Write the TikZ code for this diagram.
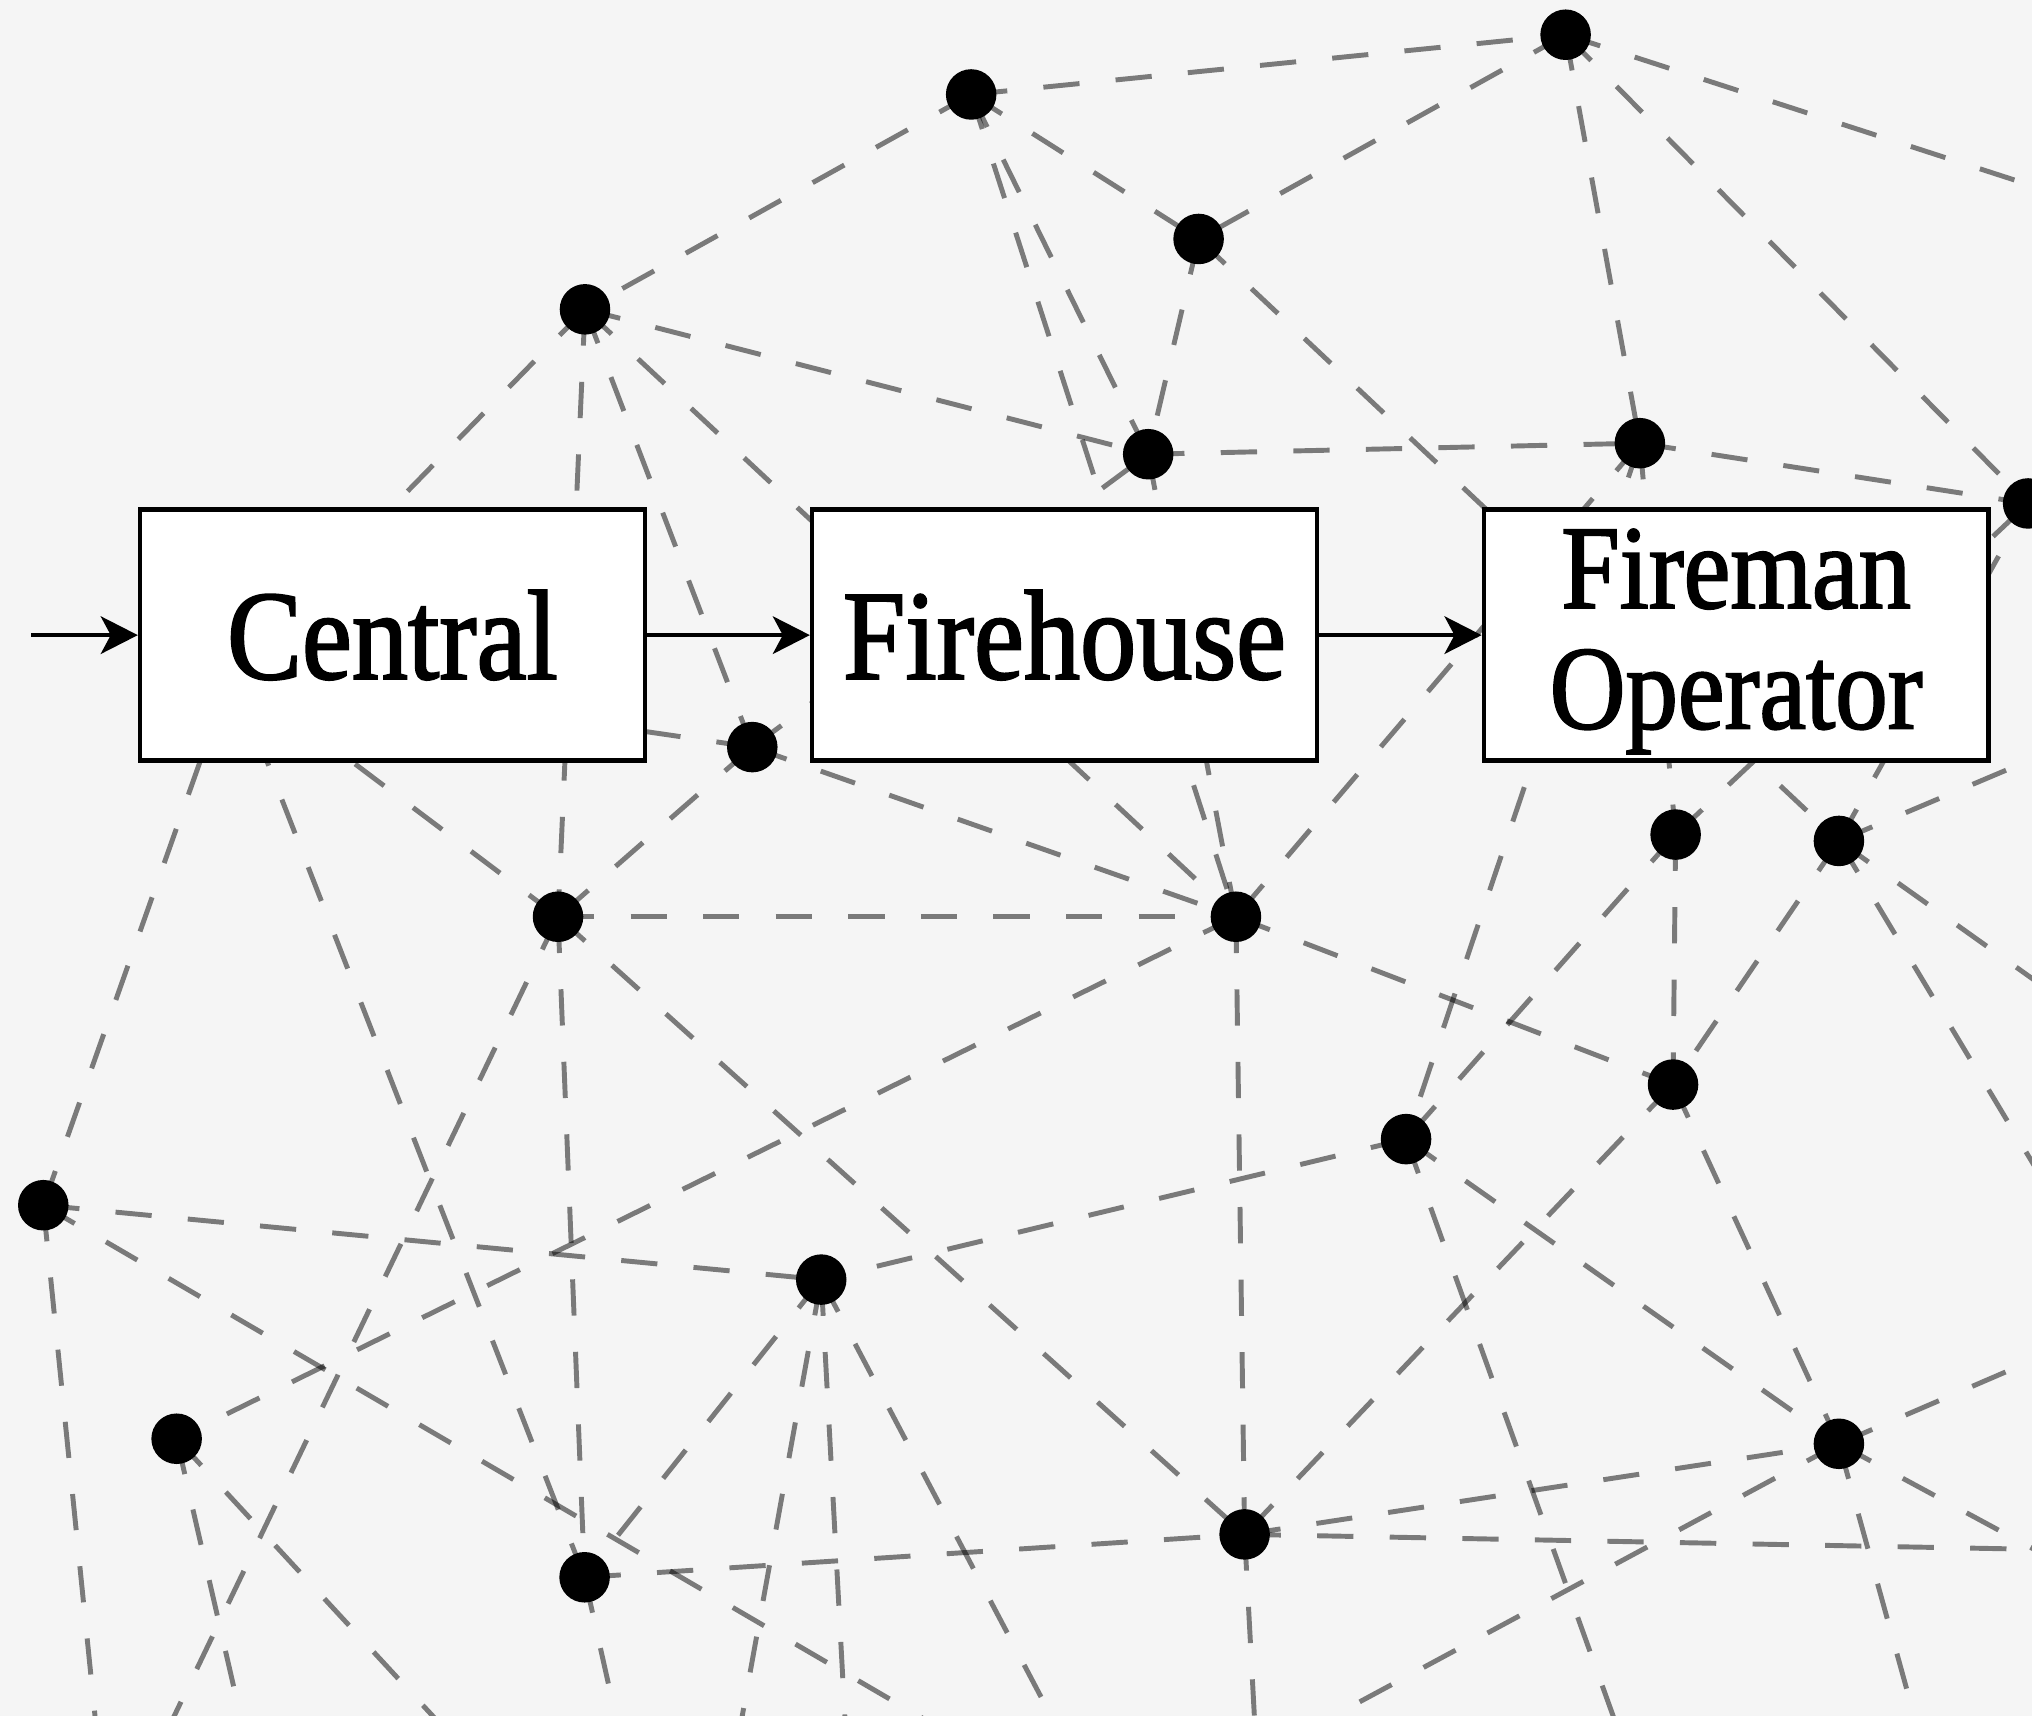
\documentclass[tikz,border=0pt]{standalone}
\usepackage{fontspec}
\setmainfont[FakeStretch=0.88,FakeBold=1.6]{Liberation Serif}
\usetikzlibrary{arrows.meta,backgrounds}
\definecolor{paper}{HTML}{F5F5F5}
\newcommand\stagefont{\fontsize{98.5pt}{100pt}\selectfont}
\newcommand\smallstagefont{\fontsize{92pt}{93pt}\selectfont}
\tikzset{
  link/.style={draw=black, draw opacity=0.5, line width=3.8pt, dash pattern=on 28pt off 28pt},
  dot/.style={circle, fill=black, draw=none, inner sep=0pt, minimum size=39pt},
  stage/.style={draw=black, fill=white, line width=3.4pt, minimum width=389.5pt,
                minimum height=193.6pt, inner sep=0pt},
  label/.style={inner sep=0pt, align=center},
  flow/.style={draw=black, line width=2.9pt,
               -{Stealth[length=28.6pt, width=29pt, inset=7.7pt]}},
}
\begin{document}
\begin{tikzpicture}[x=1pt,y=-1pt]
\useasboundingbox (0,0) rectangle (1568,1324);
\clip (0,0) rectangle (1568,1324);

% network dots
\node[dot] (A) at (749.4,72.9) {};
\node[dot] (B) at (1208.1,26.8) {};
\node[dot] (C) at (924.9,184.4) {};
\node[dot] (D) at (451.4,238.7) {};
\node[dot] (E) at (886,350.5) {};
\node[dot] (F) at (1265.4,342) {};
\node[dot] (G) at (1565,388.5) {};
\node[dot] (H) at (580.5,576.5) {};
\node[dot] (I) at (430.6,707.4) {};
\node[dot] (J) at (953.7,707.4) {};
\node[dot] (K) at (1293,644) {};
\node[dot] (L) at (1419,648.9) {};
\node[dot] (M) at (1291,836.9) {};
\node[dot] (N) at (1085,879) {};
\node[dot] (O) at (33.4,930) {};
\node[dot] (P) at (633.7,987.4) {};
\node[dot] (Q) at (136.3,1110.2) {};
\node[dot] (R) at (451.1,1217.1) {};
\node[dot] (S) at (960.4,1184) {};
\node[dot] (T) at (1419,1114.1) {};
\coordinate (hub) at (179,518);

% links that run on past the frame
\coordinate (b1) at (1700,186);
\coordinate (l1) at (1700,530);
\coordinate (l2) at (1700,849);
\coordinate (l3) at (1700,1116);
\coordinate (i1) at (98,1400);
\coordinate (n1) at (1272,1400);
\coordinate (p1) at (559,1400);
\coordinate (p2) at (656,1400);
\coordinate (p3) at (851,1400);
\coordinate (q1) at (203,1400);
\coordinate (q2) at (404,1400);
\coordinate (o1) at (839,1400);
\coordinate (o2) at (81,1400);
\coordinate (r1) at (492,1400);
\coordinate (s1) at (1700,1198);
\coordinate (s2) at (972,1400);
\coordinate (t1) at (1700,993);
\coordinate (t2) at (888,1400);
\coordinate (t3) at (1498,1400);
\coordinate (t4) at (1700,1266);

% stages
\node[stage] (central) at (302.8,490.1) {};
\node[stage] (firehouse) at (821.4,490.1) {};
\node[stage] (fireman) at (1339.7,490.1) {};
\node[label, font=\stagefont] (centralL) at (central.center) {Central};
\node[label, font=\stagefont] (firehouseL) at (firehouse.center) {Firehouse};
\node[label, font=\smallstagefont] (firemanL) at (1339.7,495) {Fireman\\Operator};

\coordinate (inlet) at (24,490.1);
\draw[flow] (inlet) -- (central.west);
\draw[flow] (central.east) -- (firehouse.west);
\draw[flow] (firehouse.east) -- (fireman.west);

\begin{scope}[on background layer]
\fill[paper] (0,0) rectangle (1568,1324);
\foreach \u/\v in {A/B, A/C, A/D, A/E, A/J, B/C, B/F, B/G, C/E, C/L,
                   D/E, D/I, D/H, D/J, E/F, E/J, H/E, F/G, F/N, F/J, F/K,
                   K/G, L/G, H/I, H/J, I/J, I/S, I/R, J/M, J/S, J/Q,
                   K/M, K/N, L/M, M/T, M/S, N/P, N/T, P/R, O/P, R/S, S/T}
  \draw[link] (\u.center) -- (\v.center);
\foreach \u/\v in {H/hub, D/hub, I/hub, O/hub, R/hub}
  \draw[link] (\u.center) -- (\v);
\foreach \u/\v in {B/b1, L/l1, L/l2, L/l3, I/i1, N/n1, P/p1, P/p2, P/p3,
                   Q/q1, Q/q2, O/o1, O/o2, R/r1, S/s1, S/s2,
                   T/t1, T/t2, T/t3, T/t4}
  \draw[link] (\u.center) -- (\v);
\end{scope}
\end{tikzpicture}
\end{document}
